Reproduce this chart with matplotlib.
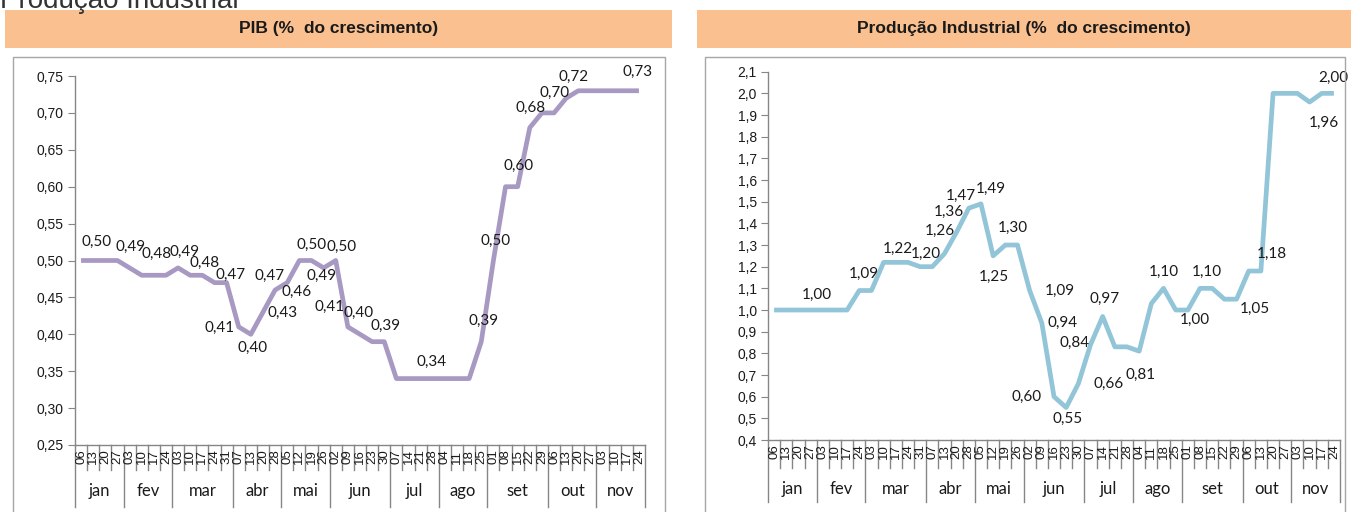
import matplotlib.pyplot as plt
from matplotlib.patches import Rectangle
from matplotlib.ticker import MultipleLocator, FuncFormatter

# datas semanais (dia) e meses do eixo de categorias
dias = ['06', '13', '20', '27',
        '03', '10', '17', '24',
        '03', '10', '17', '24', '31',
        '07', '13', '20', '28',
        '05', '12', '19', '26',
        '02', '09', '16', '23', '30',
        '07', '14', '21', '28',
        '04', '11', '18', '25',
        '01', '08', '15', '22', '29',
        '06', '13', '20', '27',
        '03', '10', '17', '24']
meses = ['jan', 'fev', 'mar', 'abr', 'mai', 'jun', 'jul', 'ago', 'set', 'out', 'nov']
semanas_por_mes = [4, 4, 5, 4, 4, 5, 4, 4, 5, 4, 4]

# PIB (% do crescimento)
pib = [0.50, 0.50, 0.50, 0.50,
       0.49, 0.48, 0.48, 0.48,
       0.49, 0.48, 0.48, 0.47, 0.47,
       0.41, 0.40, 0.43, 0.46,
       0.47, 0.50, 0.50, 0.49,
       0.50, 0.41, 0.40, 0.39, 0.39,
       0.34, 0.34, 0.34, 0.34,
       0.34, 0.34, 0.34, 0.39,
       0.50, 0.60, 0.60, 0.68, 0.70,
       0.70, 0.72, 0.73, 0.73,
       0.73, 0.73, 0.73, 0.73]

# Produção Industrial (% do crescimento)
prod = [1.00, 1.00, 1.00, 1.00,
        1.00, 1.00, 1.00, 1.09,
        1.09, 1.22, 1.22, 1.22, 1.20,
        1.20, 1.26, 1.36, 1.47,
        1.49, 1.25, 1.30, 1.30,
        1.09, 0.94, 0.60, 0.55, 0.66,
        0.84, 0.97, 0.83, 0.83,
        0.81, 1.03, 1.10, 1.00,
        1.00, 1.10, 1.10, 1.05, 1.05,
        1.18, 1.18, 2.00, 2.00,
        2.00, 1.96, 2.00, 2.00]

# pontos rotulados -> deslocamento do rótulo (px)
pib_rotulos = {0: (15, 19), 4: (1, 21), 5: (15, 21), 8: (6, 16), 9: (14, 12),
               11: (16, 8), 13: (-19, -1), 14: (2, -14), 15: (20, -1), 16: (21, -2),
               17: (-18, 7), 18: (12, 16), 20: (-2, -8), 21: (6, 14), 22: (-18, 20),
               23: (-1, 21), 24: (13, 16), 29: (-1, 17), 33: (2, 21), 34: (2, 20),
               35: (13, 21), 37: (1, 20), 38: (13, 20), 40: (7, 21), 46: (-1, 19)}
prod_rotulos = {3: (6, 15), 7: (5, 17), 9: (14, 13), 12: (6, 13), 14: (-5, 23),
                15: (-8, 20), 16: (-8, 12), 17: (10, 15), 19: (8, 17), 18: (1, -21),
                21: (30, 0), 22: (21, 0), 26: (-16, 2), 27: (2, 18), 23: (-27, 0),
                24: (1, -11), 25: (30, 0), 30: (1, -24), 32: (0, 16), 34: (7, -10),
                35: (7, 16), 38: (18, -10), 39: (23, 17), 44: (14, -21), 46: (-1, 15)}

W, H = 1351, 512
CINZA = '#868686'
LARANJA = '#FAC090'

plt.rcParams['font.family'] = ['Liberation Sans', 'DejaVu Sans']

fig = plt.figure(figsize=(W / 100, H / 100), dpi=100)


def rect_px(x0, y0, x1, y1):
    return [x0 / W, 1 - y1 / H, (x1 - x0) / W, (y1 - y0) / H]


def caixa(x0, y0, x1, y1, **kw):
    fig.add_artist(Rectangle((x0 / W, 1 - y1 / H), (x1 - x0) / W, (y1 - y0) / H,
                             transform=fig.transFigure, **kw))


def virgula(casas):
    return FuncFormatter(lambda v, pos: f'{v:.{casas}f}'.replace('.', ','))


def grafico(area, cabecalho, moldura, titulo, valores, rotulos, cor,
            ylim, passo, casas, y_dia, y_mes, corte_curto, corte_longo):
    caixa(*cabecalho, facecolor=LARANJA, edgecolor='none')
    cx = (cabecalho[0] + cabecalho[2]) / 2 / W
    cy = 1 - (cabecalho[1] + cabecalho[3]) / 2 / H
    fig.text(cx, cy, titulo, ha='center', va='center', fontsize=12.5,
             fontweight='bold', color='#1a1a1a')
    caixa(*moldura, facecolor='none', edgecolor='#A6A6A6', linewidth=1)

    ax = fig.add_axes(rect_px(*area))
    h = area[3] - area[1]
    n = len(valores)
    ax.plot(range(n), valores, color=cor, linewidth=3.4, solid_capstyle='butt')
    ax.set_xlim(-0.5, n - 0.5)
    ax.set_ylim(*ylim)
    ax.yaxis.set_major_locator(MultipleLocator(passo))
    ax.yaxis.set_major_formatter(virgula(casas))
    for lado in ('top', 'right'):
        ax.spines[lado].set_visible(False)
    for lado in ('left', 'bottom'):
        ax.spines[lado].set_color(CINZA)
        ax.spines[lado].set_linewidth(1)
    ax.set_xticks([])
    ax.tick_params(axis='y', direction='out', length=5, color=CINZA,
                   labelsize=10, pad=3, labelcolor='#1a1a1a')
    ax.patch.set_alpha(0)

    # rótulos de dados, sempre com duas casas
    for i, (dx, dy) in rotulos.items():
        ax.annotate(f'{valores[i]:.2f}'.replace('.', ','),
                    (i, valores[i]), xytext=(dx, dy), textcoords='offset pixels',
                    ha='center', va='center', fontsize=11, family='Lato',
                    color='#1a1a1a')

    # eixo de categorias em dois níveis (dia / mês)
    tr = ax.get_xaxis_transform()
    inicios = [0]
    for k in semanas_por_mes:
        inicios.append(inicios[-1] + k)
    for b in range(n + 1):
        comp = corte_longo if b in inicios else corte_curto
        ax.plot([b - 0.5, b - 0.5], [0, -comp / h], transform=tr, color=CINZA,
                linewidth=1, clip_on=False)
    for i, d in enumerate(dias):
        ax.text(i, -y_dia / h, d, transform=tr, rotation=90, ha='center',
                va='center', fontsize=9.5, color='#1a1a1a')
    for m, ini, k in zip(meses, inicios, semanas_por_mes):
        ax.text(ini + (k - 1) / 2, -y_mes / h, m, transform=tr, ha='center',
                va='center', fontsize=12, family='Lato', color='#1a1a1a')
    return ax


grafico((75, 76, 645, 445), (5, 10, 672, 48), (13, 57, 665, 530),
        'PIB (%  do crescimento)', pib, pib_rotulos, '#A899C2',
        (0.25, 0.75), 0.05, 2, 12, 46, 25, 62)
grafico((768, 71.7, 1340, 440), (697, 10, 1351, 48), (705, 57, 1345, 530),
        'Produção Industrial (%  do crescimento)', prod, prod_rotulos, '#92C5D8',
        (0.4, 2.1), 0.1, 1, 12, 49, 28, 62)

# título da seção, cortado no topo da página
fig.text(0.0, 1 - 8 / H, 'Produção Industrial', ha='left', va='baseline',
         fontsize=20, color='#333333')

fig.savefig('out.png', dpi=100)
